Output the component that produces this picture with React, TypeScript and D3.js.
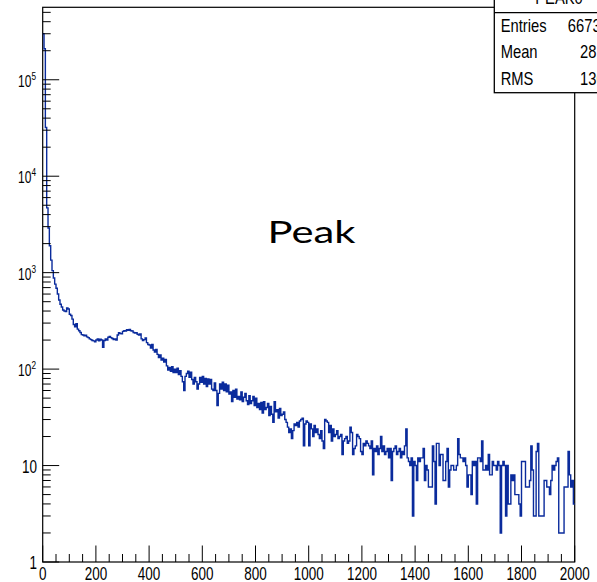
import React from "react";
import * as d3 from "d3";

// Histogram PEAK0: 400 bins of width 5 over [0, 2000)
const BIN_WIDTH = 5;
const X_MIN = 0;
const X_MAX = 2000;
const Y_MIN = 1;
const Y_MAX = 5.64e5;

const counts: number[] = [
  // 0-95
  300000, 210000, 32000, 4700, 2900, 1900, 1350, 1050, 880, 760, 690, 600, 520, 470, 440, 410, 400, 395, 430, 420,
  // 100-195
  370, 360, 330, 290, 275, 295, 260, 250, 240, 228, 226, 222, 224, 216, 212, 206, 202, 198, 196, 192,
  // 200-295
  200, 206, 196, 204, 200, 168, 198, 206, 200, 214, 218, 212, 208, 202, 206, 200, 226, 238, 234, 232,
  // 300-395
  246, 250, 248, 256, 252, 258, 250, 248, 240, 236, 238, 230, 226, 232, 206, 198, 202, 210, 188, 180,
  // 400-495
  178, 165, 180, 158, 150, 160, 142, 132, 140, 124, 130, 118, 126, 108, 98, 104, 95, 106, 92, 100,
  // 500-595
  92, 102, 88, 96, 84, 74, 60, 84, 90, 95, 82, 93, 78, 70, 82, 74, 62, 70, 82, 73,
  // 600-695
  84, 70, 80, 66, 79, 70, 78, 62, 60, 72, 60, 42, 56, 70, 62, 73, 60, 70, 58, 68,
  // 700-795
  55, 58, 46, 60, 51, 62, 49, 52, 48, 58, 46, 51, 56, 47, 43, 53, 44, 47, 52, 42,
  // 800-895
  50, 40, 44, 38, 45, 35, 46, 38, 40, 44, 33, 41, 34, 28, 46, 36, 38, 31, 39, 33,
  // 900-995
  34, 36, 30, 28, 25, 22, 24, 19, 23, 27, 26, 28, 25, 29, 30, 31, 16, 27, 29, 28,
  // 1000-1095
  16, 27, 24, 20, 26, 22, 24, 21, 19, 23, 18, 15, 30, 29, 28, 22, 26, 18, 24, 20,
  // 1100-1195
  21, 23, 19, 20, 21, 13, 18, 19, 20, 17, 18, 25, 22, 13, 15, 16, 21, 20, 19, 14,
  // 1200-1295
  13, 17, 16, 18, 17, 16, 15, 18, 8, 15, 14, 16, 13, 15, 20, 14, 16, 13, 14, 15,
  // 1300-1395
  12, 15, 7, 14, 15, 16, 13, 14, 15, 12, 14, 13, 16, 24, 12, 11, 10, 12, 3, 11,
  // 1400-1495
  10, 7, 12, 11, 12, 12, 15, 7, 10, 9, 6, 6, 6, 16, 11, 4, 17, 17, 10, 13,
  // 1500-1595
  13, 7, 7, 11, 15, 6, 9, 10, 10, 9, 9, 10, 19, 13, 12, 12, 11, 12, 10, 6,
  // 1600-1695
  8, 8, 5, 11, 10, 11, 4, 12, 12, 11, 18, 9, 9, 10, 9, 13, 8, 8, 11, 10,
  // 1700-1795
  10, 9, 11, 10, 2, 10, 11, 10, 3, 10, 4, 4, 8, 7, 8, 5, 5, 5, 4, 3,
  // 1800-1895
  11, 11, 11, 6, 6, 6, 7, 16, 9, 3, 3, 14, 17, 3, 3, 3, 3, 7, 7, 6,
  // 1900-1995
  6, 5, 7, 10, 9, 10, 11, 12, 2, 2, 2, 2, 6, 6, 6, 14, 8, 6, 7, 4,
];

const xMajorTicks = [0, 200, 400, 600, 800, 1000, 1200, 1400, 1600, 1800, 2000];
const yDecades = [1, 10, 100, 1000, 10000, 100000];
const yDecadeExponents = [0, 1, 2, 3, 4, 5];

const statsTitle = "PEAK0";
const statsLabels = ["Entries", "Mean", "RMS"];
const statsValues = ["667353", "28.31", "130.7"];
const overlayText = "Peak";

const W = 597;
const H = 582;
const LEFT = 42.7;
const RIGHT = 574.7;
const TOP = 7.3;
const BOTTOM = 562;

const LINE_COLOR = "#0a2b9c";
const AXIS_FONT = "'Liberation Sans', Arial, Helvetica, sans-serif";

export default function App() {
  const x = d3.scaleLinear().domain([X_MIN, X_MAX]).range([LEFT, RIGHT]);
  const y = d3.scaleLog().domain([Y_MIN, Y_MAX]).range([BOTTOM, TOP]);

  // step outline of the histogram
  const pts: [number, number][] = counts.map((c, i) => [x(i * BIN_WIDTH), y(c)]);
  pts.push([x(X_MAX), y(counts[counts.length - 1])]);
  const path = d3.line().curve(d3.curveStepAfter)(pts) || "";

  // minor ticks
  const xMinor: number[] = d3.range(X_MIN, X_MAX + 1, 50).filter((v) => v % 200 !== 0);
  const yMinor: number[] = [];
  for (let e = 0; e <= 5; e++) {
    for (let m = 2; m <= 9; m++) {
      const v = m * Math.pow(10, e);
      if (v <= Y_MAX) yMinor.push(v);
    }
  }

  const sx = 0.75;
  const statsX = 494.3;
  const statsBottom = 92.7;

  return (
    <svg width={W} height={H} style={{ display: "block", position: "absolute", left: 0, top: 0 }}>
      <rect x={0} y={0} width={W} height={H} fill="#ffffff" />

      {/* frame */}
      <rect x={LEFT} y={TOP} width={RIGHT - LEFT} height={BOTTOM - TOP} fill="none" stroke="#000" strokeWidth={1.2} />

      {/* histogram */}
      <path d={path} fill="none" stroke={LINE_COLOR} strokeWidth={1.4} strokeLinejoin="miter" />

      {/* x axis ticks */}
      {xMajorTicks.map((t) => (
        <line key={"xM" + t} x1={x(t)} x2={x(t)} y1={BOTTOM} y2={BOTTOM - 16.5} stroke="#000" strokeWidth={1} />
      ))}
      {xMinor.map((t) => (
        <line key={"xm" + t} x1={x(t)} x2={x(t)} y1={BOTTOM} y2={BOTTOM - 8} stroke="#000" strokeWidth={1} />
      ))}
      {xMajorTicks.map((t) => (
        <text
          key={"xl" + t}
          transform={`translate(${x(t)},580) scale(${sx},1)`}
          textAnchor="middle"
          fontFamily={AXIS_FONT}
          fontSize={18}
          fill="#000"
        >
          {t}
        </text>
      ))}

      {/* y axis ticks */}
      {yDecades.map((t) => (
        <line key={"yM" + t} x1={LEFT} x2={LEFT + 16.5} y1={y(t)} y2={y(t)} stroke="#000" strokeWidth={1} />
      ))}
      {yMinor.map((t) => (
        <line key={"ym" + t} x1={LEFT} x2={LEFT + 8} y1={y(t)} y2={y(t)} stroke="#000" strokeWidth={1} />
      ))}
      {yDecades.map((t, i) => {
        const e = yDecadeExponents[i];
        if (e <= 1) {
          return (
            <text
              key={"yl" + t}
              transform={`translate(37,${y(t) + 7}) scale(${sx},1)`}
              textAnchor="end"
              fontFamily={AXIS_FONT}
              fontSize={18}
              fill="#000"
            >
              {t}
            </text>
          );
        }
        return (
          <text
            key={"yl" + t}
            transform={`translate(36,${y(t) + 7}) scale(${sx},1)`}
            textAnchor="end"
            fontFamily={AXIS_FONT}
            fontSize={16}
            fill="#000"
          >
            10
            <tspan fontSize={11} dy={-7}>
              {e}
            </tspan>
          </text>
        );
      })}

      {/* stats box */}
      <rect x={statsX} y={-3} width={160} height={statsBottom + 3} fill="#fff" stroke="#000" strokeWidth={1.3} />
      <line x1={statsX} x2={W} y1={12.7} y2={12.7} stroke="#000" strokeWidth={1.2} />
      <text
        transform={`translate(559,4) scale(0.82,1)`}
        textAnchor="middle"
        fontFamily={AXIS_FONT}
        fontSize={18}
        fill="#000"
      >
        {statsTitle}
      </text>
      {statsLabels.map((s, i) => (
        <g key={s}>
          <text
            transform={`translate(500.7,${31.7 + i * 26.5}) scale(0.82,1)`}
            fontFamily={AXIS_FONT}
            fontSize={18}
            fill="#000"
          >
            {s}
          </text>
          <text
            transform={`translate(617,${31.7 + i * 26.5}) scale(0.82,1)`}
            textAnchor="end"
            fontFamily={AXIS_FONT}
            fontSize={18}
            fill="#000"
          >
            {statsValues[i]}
          </text>
        </g>
      ))}

      {/* overlay label */}
      <text
        x={267.5}
        y={243.3}
        fontFamily="Lato, 'Open Sans', sans-serif"
        fontSize={31}
        textLength={88}
        lengthAdjust="spacingAndGlyphs"
        fill="#000"
      >
        {overlayText}
      </text>
    </svg>
  );
}
